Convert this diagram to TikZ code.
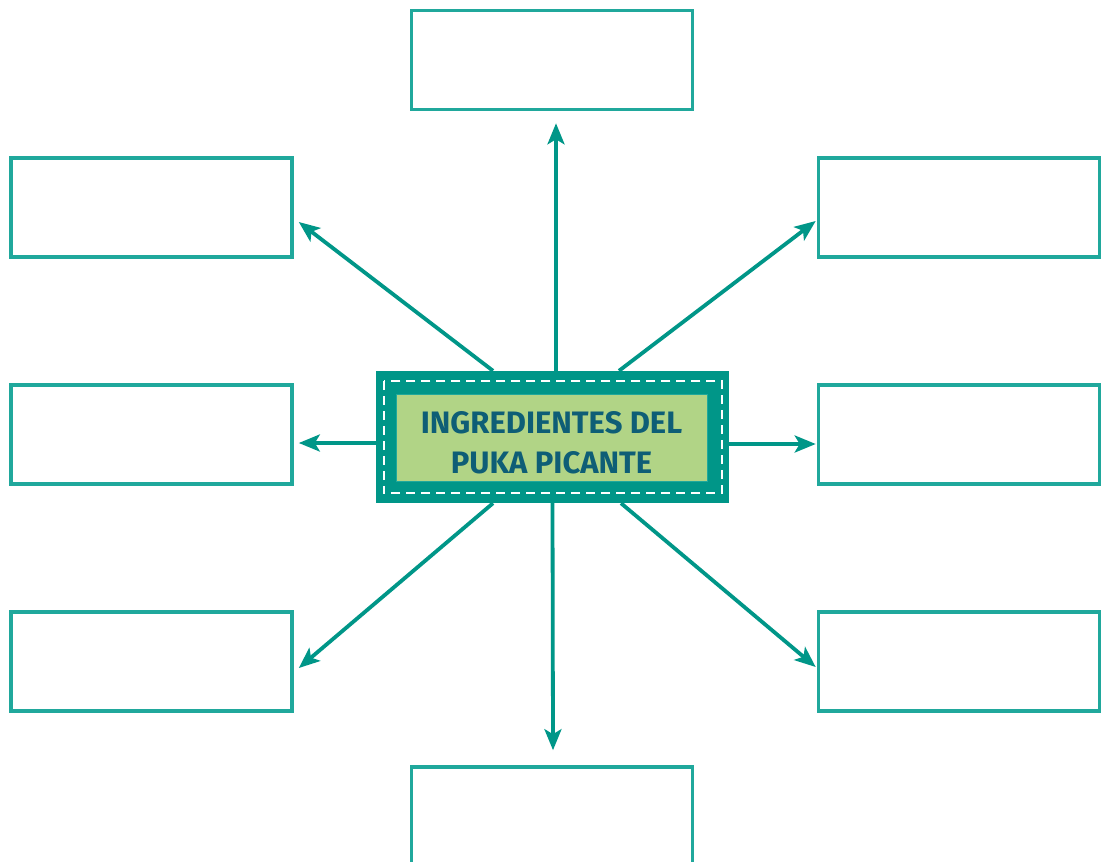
\documentclass[tikz,border=0pt]{standalone}
\usepackage{fontspec}
\setmainfont{Fira Sans}
\usetikzlibrary{calc,arrows.meta}
\definecolor{hubteal}{RGB}{0,150,136}
\definecolor{boxteal}{RGB}{32,168,156}
\definecolor{titlegreen}{RGB}{177,212,134}
\definecolor{titleblue}{RGB}{14,94,118}
\tikzset{
    slot/.style={draw=boxteal, line width=3.6pt, minimum width=281pt, minimum height=99pt, inner sep=0pt},
    link/.style={draw=hubteal, line width=3.8pt, -{Stealth[length=21pt,width=17pt,inset=5pt]}}
}
\begin{document}
\begin{tikzpicture}[x=1pt, y=-1pt]
    \useasboundingbox (0, 0) rectangle (1107, 861);

    \node[slot] (top) at (552, 60) {};
    \node[slot] (lt) at (151.5, 207.5) {};
    \node[slot] (rt) at (959, 207.5) {};
    \node[slot] (lm) at (151.5, 434.5) {};
    \node[slot] (rm) at (959, 434.5) {};
    \node[slot] (lb) at (151.5, 661.5) {};
    \node[slot] (rb) at (959, 661.5) {};
    \node[slot] (bot) at (552, 816.5) {};

    \node[fill=hubteal, minimum width=353pt, minimum height=132pt, inner sep=0pt] (hub) at (552.5, 437) {};
    \draw[white, line width=2.4pt, dash pattern=on 9pt off 6pt]
        ($(hub.north west)+(8, 10)$) rectangle ($(hub.south east)+(-7, -10)$);
    \node[fill=titlegreen, draw=boxteal, line width=1pt, minimum width=311pt, minimum height=87pt] (plate) at (551.5, 437.5) {};
    \node[align=center, text=titleblue, font=\fontsize{31}{40}\selectfont\bfseries] (title) at ($(plate.center)+(0, 5)$)
        {INGREDIENTES DEL\\PUKA PICANTE};

    \draw[link] ($(hub.north)+(3.5, 0)$) -- ($(top.south)+(4, 12)$);
    \draw[link] ($(hub.north)+(-59.5, 0)$) -- ($(lt.east)+(5, 14.5)$);
    \draw[link] ($(hub.north)+(66.5, 0)$) -- ($(rt.west)+(-1, 13.5)$);
    \draw[link] ($(hub.west)+(0, 6)$) -- ($(lm.east)+(5, 8.5)$);
    \draw[link] ($(hub.east)+(0, 7)$) -- ($(rm.west)+(-1, 9.5)$);
    \draw[link] ($(hub.south)+(-59.5, 0)$) -- ($(lb.east)+(5, 6.5)$);
    \draw[link] (hub.south) -- ($(bot.north)+(1, -15)$);
    \draw[link] ($(hub.south)+(68.5, 0)$) -- ($(rb.west)+(-1, 5.5)$);
\end{tikzpicture}
\end{document}
